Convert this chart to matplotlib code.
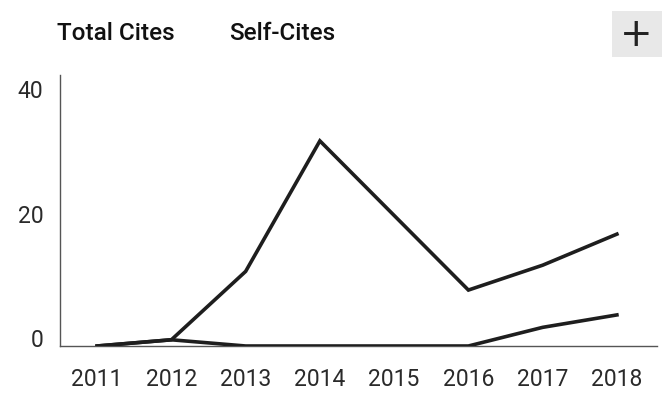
import matplotlib
matplotlib.use("Agg")
import matplotlib.pyplot as plt
import matplotlib.transforms as mtransforms
from matplotlib.patches import Rectangle

years = ["2011", "2012", "2013", "2014", "2015", "2016", "2017", "2018"]
total_cites = [0, 1, 12, 33, 21, 9, 13, 18]
self_cites = [0, 1, 0, 0, 0, 0, 3, 5]
y_ticks = [0, 20, 40]
legend_labels = ["Total Cites", "Self-Cites"]

plt.rcParams['font.family'] = ['Roboto', 'DejaVu Sans']

fig = plt.figure(figsize=(6.67, 4.02), dpi=100)
fig.patch.set_facecolor("white")
ax = fig.add_axes([60/667, 1-347/402, 597/667, (347-76)/402])

x = list(range(len(years)))
ax.plot(x, total_cites, color="#1e1e1e", lw=2.6, solid_joinstyle="miter", zorder=3)
ax.plot(x, self_cites, color="#1e1e1e", lw=2.6, solid_joinstyle="miter", zorder=3)

ax.set_xlim(-0.5, 7.54)
ax.set_ylim(0, 43.6)
ax.set_xticks(x)
ax.set_xticklabels(years)
ax.set_yticks(y_ticks)
ax.set_yticklabels([str(v) for v in y_ticks])

for s in ["top", "right"]:
    ax.spines[s].set_visible(False)
ax.spines["left"].set_color("#555555")
ax.spines["left"].set_linewidth(1.0)
ax.spines["bottom"].set_color("#555555")
ax.spines["bottom"].set_linewidth(1.0)

ax.tick_params(axis="both", length=0, labelsize=16.5, labelcolor="#2a2a2a")
ax.tick_params(axis="x", pad=15)
ax.tick_params(axis="y", pad=12)

offset = mtransforms.ScaledTranslation(0, 9/100, fig.dpi_scale_trans)
for lab in ax.get_yticklabels():
    lab.set_transform(lab.get_transform() + offset)

fig.text(57/667, 1-33/402, legend_labels[0], fontsize=17.5, fontweight="medium",
         color="#111111", ha="left", va="center")
fig.text(229/667, 1-33/402, legend_labels[1], fontsize=17.5, fontweight="medium",
         color="#111111", ha="left", va="center")

fig.patches.append(Rectangle((612/667, 1-58/402), 50/667, 46/402,
                             transform=fig.transFigure, facecolor="#e8e8e8",
                             edgecolor="none", zorder=0))
fig.text(636/667, 1-35/402, "+", fontsize=28, color="#222222",
         ha="center", va="center", family="DejaVu Sans")

fig.savefig("out.png", dpi=100)
